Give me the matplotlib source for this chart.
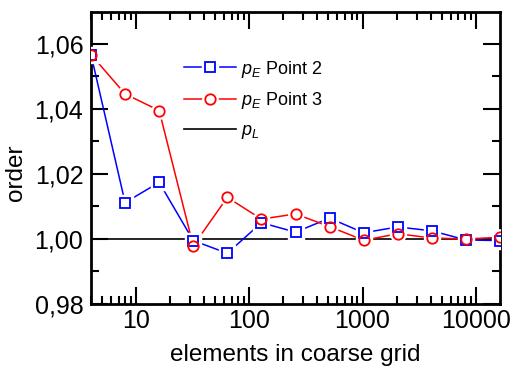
import matplotlib
matplotlib.use("Agg")
import matplotlib.pyplot as plt
import matplotlib.ticker as mticker
from matplotlib.lines import Line2D

plt.rcParams['font.family'] = ['Liberation Sans', 'DejaVu Sans']
plt.rcParams['mathtext.fontset'] = 'custom'
plt.rcParams['mathtext.it'] = 'Liberation Sans:italic'
plt.rcParams['mathtext.rm'] = 'Liberation Sans'

# elements in coarse grid
elements = [4, 8, 16, 32, 64, 128, 256, 512, 1024, 2048, 4096, 8192, 16384]
# observed order, point 2 and point 3
p_point2 = [1.0567, 1.0112, 1.0174, 0.9995, 0.9956, 1.0050, 1.0021, 1.0064,
            1.0019, 1.0037, 1.0025, 0.9997, 0.9995]
p_point3 = [1.0567, 1.0446, 1.0395, 0.9979, 1.0128, 1.0061, 1.0077, 1.0038,
            0.9996, 1.0016, 1.0003, 1.0000, 1.0005]
p_L = 1.0

fig = plt.figure(figsize=(5.14, 3.68), dpi=100)
ax = fig.add_axes([91/514, 1 - 304/368, 409/514, 292/368])

# theoretical order
ax.axhline(p_L, color='black', lw=1.2, zorder=1)

handles = []
for y, c, m in [(p_point2, 'blue', 's'), (p_point3, 'red', 'o')]:
    l1, = ax.plot(elements, y, color=c, lw=1.1, zorder=2)
    # white halo so the line stops short of the marker
    l2, = ax.plot(elements, y, ls='none', marker=m, ms=11, color='white', zorder=3)
    l3, = ax.plot(elements, y, ls='none', marker=m, ms=7.5, mfc='none', mec=c,
                  mew=1.3, zorder=4)
    handles.append((l1, l2, l3))
handles.append(Line2D([], [], color='black', lw=1.2))

ax.set_xscale('log')
ax.set_xlim(4, 16384)
ax.set_ylim(0.98, 1.0698)
ax.yaxis.set_major_locator(mticker.MultipleLocator(0.02))
ax.yaxis.set_minor_locator(mticker.MultipleLocator(0.01))
ax.yaxis.set_major_formatter(mticker.FuncFormatter(lambda v, p: f"{v:.2f}".replace('.', ',')))
ax.xaxis.set_major_locator(mticker.LogLocator(base=10))
ax.xaxis.set_minor_locator(mticker.LogLocator(base=10, subs=range(2, 10)))
ax.xaxis.set_minor_formatter(mticker.NullFormatter())
ax.xaxis.set_major_formatter(mticker.FuncFormatter(lambda v, p: f"{int(round(v))}"))

ax.tick_params(which='both', direction='in', top=True, right=True, width=1.5,
               labelsize=18)
ax.tick_params(which='major', length=12)
ax.tick_params(axis='y', pad=5.5)
ax.tick_params(which='minor', length=6)
for s in ax.spines.values():
    s.set_linewidth(2)

ax.set_xlabel('elements in coarse grid', fontsize=17.5, labelpad=8)
ax.set_ylabel('order', fontsize=17.5)
ax.yaxis.set_label_coords(-0.156, 0.45)

labels = [r'$p_E$ Point 2', r'$p_E$ Point 3', r'$p_L$']
ax.legend(handles, labels, loc='upper left', bbox_to_anchor=(0.188, 0.896),
          frameon=False, fontsize=13, handlelength=2.86, handletextpad=0.3,
          labelspacing=0.6)

fig.savefig('out.png', dpi=100)
